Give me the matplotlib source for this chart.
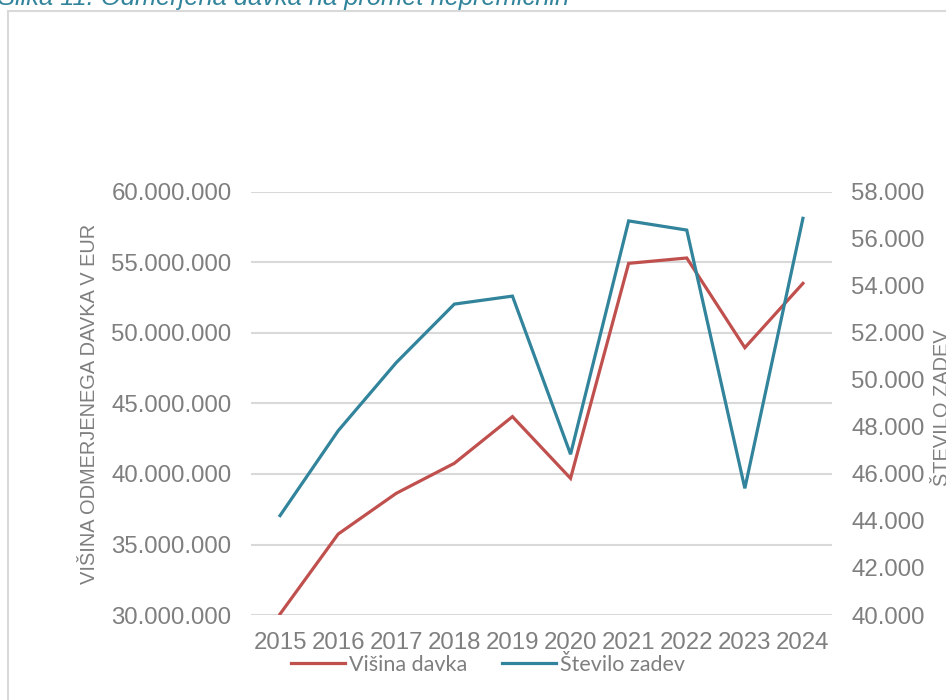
import matplotlib
matplotlib.use('Agg')
import matplotlib.pyplot as plt
from matplotlib.ticker import FuncFormatter, MultipleLocator
from matplotlib.patches import Rectangle
import numpy as np

years = ['2015', '2016', '2017', '2018', '2019', '2020', '2021', '2022', '2023', '2024']
visina_davka = [30070000, 35740000, 38630000, 40760000, 44070000, 39690000,
                54940000, 55320000, 48960000, 53520000]
stevilo_zadev = [44230, 47840, 50740, 53230, 53570, 46840, 56770, 56380, 45390, 56880]

red = '#C0504D'
teal = '#31849B'
grey = '#7F7F7F'

plt.rcParams['font.family'] = ['Liberation Sans', 'DejaVu Sans']

def dots(v, pos):
    return f'{int(round(v)):,}'.replace(',', '.')

fig = plt.figure(figsize=(9.46, 7.0), dpi=100)
ax = fig.add_axes([251/946, 1 - 615/700, (832 - 251)/946, (615 - 192)/700])
ax2 = ax.twinx()

x = np.arange(len(years))
l1, = ax.plot(x, visina_davka, color=red, lw=2.3, label='Višina davka', solid_joinstyle='miter')
l2, = ax2.plot(x, stevilo_zadev, color=teal, lw=2.3, label='Število zadev', solid_joinstyle='miter')

ax.set_xlim(-0.5, len(years) - 0.5)
ax.set_ylim(30000000, 60000000)
ax.yaxis.set_major_locator(MultipleLocator(5000000))
ax2.set_ylim(40000, 58000)
ax2.yaxis.set_major_locator(MultipleLocator(2000))
ax.yaxis.set_major_formatter(FuncFormatter(dots))
ax2.yaxis.set_major_formatter(FuncFormatter(dots))

ax.set_xticks(x)
ax.set_xticklabels(years)
ax.grid(axis='y', color='#D9D9D9', lw=1.5)
ax.set_axisbelow(True)
for a in (ax, ax2):
    for s in a.spines.values():
        s.set_visible(False)
    a.tick_params(length=0, labelsize=17.3, labelcolor=grey)
ax.tick_params(axis='y', pad=14)
ax2.tick_params(axis='y', pad=14)
ax.tick_params(axis='x', pad=12)

fig.text(90/946, 1 - 404/700, 'VIŠINA ODMERJENEGA DAVKA V EUR', rotation=90,
         ha='center', va='center', fontsize=14.4, color=grey)
fig.text(942/946, 1 - 408/700, 'ŠTEVILO ZADEV', rotation=90,
         ha='center', va='center', fontsize=14.4, color=grey)

fig.legend(handles=[l1, l2], loc='center', bbox_to_anchor=(0.516, 1 - 665/700),
           ncol=2, frameon=False, handlelength=2.5, handletextpad=0.2,
           columnspacing=1.6, prop={'family': 'Lato', 'size': 15.5}, labelcolor=grey)

fig.patches.append(Rectangle((8/946, -0.1), 1.2, 1.1 - 11/700, transform=fig.transFigure,
                             fill=False, edgecolor='#D9D9D9', lw=1.5))
fig.text(-0.002, 1 - 5/700, 'Slika 11: Odmerjena davka na promet nepremičnin',
         ha='left', va='baseline', fontsize=18.4, style='italic', color=teal)

fig.savefig('out.png', dpi=100)
